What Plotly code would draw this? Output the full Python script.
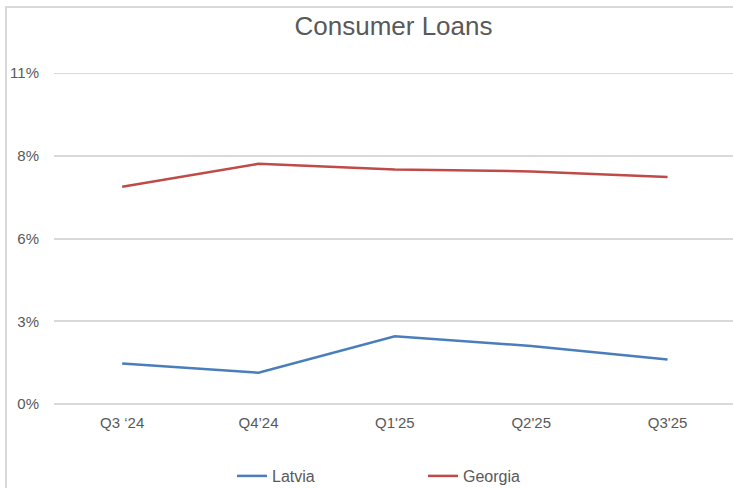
import plotly.graph_objects as go

categories = ["Q3 \u201824", "Q4\u201924", "Q1'25", "Q2'25", "Q3'25"]
latvia = [1.35, 1.04, 2.25, 1.93, 1.48]
georgia = [7.22, 7.98, 7.79, 7.73, 7.54]
ytick_vals = [0, 2.75, 5.5, 8.25, 11]
ytick_text = ["0%", "3%", "6%", "8%", "11%"]

FONT = "Liberation Sans, Arial, sans-serif"
GREY = "#595959"
GRID = "#d9d9d9"

fig = go.Figure()
fig.add_trace(go.Scatter(x=categories, y=latvia, mode="lines", name="Latvia",
                         line=dict(color="#4a7ebb", width=2.5)))
fig.add_trace(go.Scatter(x=categories, y=georgia, mode="lines", name="Georgia",
                         line=dict(color="#be4b48", width=2.5)))

fig.update_layout(
    width=733, height=488,
    margin=dict(l=54, r=0, t=73, b=84),
    paper_bgcolor="white", plot_bgcolor="white",
    font=dict(family=FONT, color=GREY, size=15),
    title=dict(text="Consumer Loans", x=0.5, xref="paper", xanchor="center",
               y=1 - 26 / 488, yref="container", yanchor="middle",
               font=dict(size=26, color=GREY, family=FONT)),
    xaxis=dict(type="category", range=[-0.5, 4.48], showgrid=False, zeroline=False,
               showline=False, ticks="", tickfont=dict(size=15, color=GREY),
               ticklabelstandoff=8),
    yaxis=dict(range=[ytick_vals[0], ytick_vals[-1]], tickvals=ytick_vals, ticktext=ytick_text,
               showgrid=True, gridcolor=GRID, gridwidth=2, zeroline=True,
               zerolinecolor=GRID, zerolinewidth=2, ticks="",
               tickfont=dict(size=15, color=GREY), ticklabelstandoff=14),
    legend=dict(orientation="h", x=232 / 733, xref="container",
                xanchor="left",
                y=12 / 488, yref="container", yanchor="middle",
                font=dict(size=16, color=GREY), entrywidth=146,
                entrywidthmode="pixels"),
    showlegend=True,
)

# top gridline (plotly omits the grid line at the range edge)
fig.add_shape(type="line", xref="paper", yref="y", x0=0, x1=1,
              y0=ytick_vals[-1], y1=ytick_vals[-1],
              line=dict(color=GRID, width=2), layer="below")

# light chart border
fig.add_shape(type="rect", xref="paper", yref="paper",
              x0=(6 - 54) / 679, x1=1.02, y0=-0.3, y1=(403 - 6) / 331,
              line=dict(color=GRID, width=2), fillcolor="rgba(0,0,0,0)", layer="below")

fig.write_html("out.html", config={"displayModeBar": False},
               post_script="document.body.style.margin='0';document.body.style.overflow='hidden';")
